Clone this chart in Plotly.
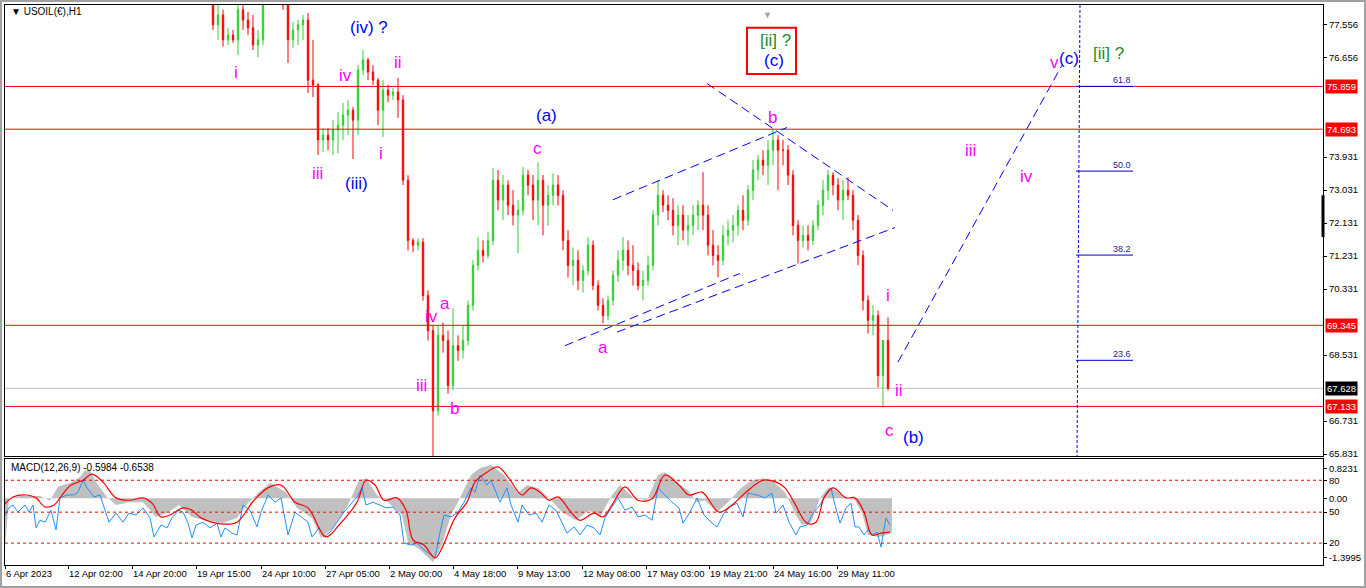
import plotly.graph_objects as go

# ---------------- price data (H1 bars aggregated) ----------------
bar_index = list(range(213, 889, 5))
open_ = [78.36,77.54,77.81,77.13,77.26,77.13,77.95,77.67,77.46,76.99,
         77.13,78.49,79.04,79.31,78.90,78.08,77.13,77.40,77.54,77.67,
         76.03,75.90,74.40,74.53,74.40,74.67,74.80,75.08,75.21,74.94,
         76.31,76.58,76.25,76.03,75.21,75.76,75.62,75.71,75.49,73.30,
         71.66,71.53,71.61,70.16,69.20,67.02,69.07,68.93,67.70,68.79,
         68.66,68.93,69.89,70.98,71.39,71.25,71.66,73.30,72.76,73.17,
         72.62,72.35,72.48,73.44,73.17,72.76,73.30,72.62,72.89,73.17,
         72.89,71.66,70.98,71.12,70.57,70.84,71.53,70.43,69.89,69.61,
         70.02,70.71,71.12,71.39,70.98,70.84,70.43,70.57,70.98,72.35,
         72.89,72.62,72.48,72.07,72.35,71.94,72.07,72.35,72.62,72.35,
         71.53,71.25,71.12,71.80,71.94,72.07,72.48,72.21,73.03,73.58,
         73.85,73.71,74.12,74.40,74.12,74.12,73.44,72.07,71.66,71.80,
         71.66,72.07,72.62,73.03,73.44,73.17,72.76,73.03,72.89,72.21,
         71.25,70.02,69.48,69.61,67.97,68.93]
high = [78.77,78.08,77.95,77.46,77.40,78.08,78.49,77.89,77.81,77.40,
        78.63,79.31,79.59,79.59,79.04,78.36,77.62,77.67,77.81,77.86,
        77.13,75.95,74.72,74.72,74.94,75.16,75.41,75.49,75.30,76.44,
        76.85,76.64,76.44,76.09,76.03,75.90,75.82,76.09,75.62,73.44,
        71.72,71.72,71.72,70.30,69.34,69.34,69.42,69.20,69.81,69.07,
        69.34,70.02,71.12,71.75,71.66,71.88,73.63,73.58,73.44,73.30,
        73.03,72.76,73.66,73.58,73.44,73.79,73.44,73.17,73.49,73.44,
        73.03,71.94,71.47,71.39,70.98,71.75,71.66,70.57,70.08,70.16,
        70.84,71.39,71.75,71.66,71.53,71.06,70.84,71.25,72.48,73.30,
        73.03,72.89,72.81,72.62,72.62,72.35,72.62,72.76,73.52,72.62,
        71.94,71.53,72.07,72.21,72.35,72.62,72.89,73.17,73.85,73.99,
        74.12,74.40,74.70,74.53,74.40,74.26,73.58,72.21,72.07,72.07,
        72.21,72.76,73.30,73.58,73.52,73.36,73.30,73.38,73.03,72.35,
        71.39,70.16,69.89,69.75,68.11,69.56]
low = [77.40,77.13,76.94,76.99,77.05,76.72,77.40,77.26,76.85,76.66,
       76.99,78.36,78.77,78.63,77.95,76.50,76.91,76.99,77.13,75.68,
       75.57,73.99,74.07,74.12,73.99,74.04,74.40,74.53,73.88,74.53,
       76.17,76.03,75.90,74.80,74.48,75.43,75.49,75.00,73.17,71.39,
       71.34,71.39,70.02,68.93,65.60,66.88,68.60,67.48,67.57,68.38,
       68.44,68.79,69.75,70.84,71.06,71.17,71.53,72.48,72.21,72.35,
       72.07,71.31,72.35,72.89,72.21,72.07,71.80,72.07,72.62,72.62,
       71.39,70.65,70.43,70.30,70.24,70.71,70.30,69.75,69.40,69.48,
       69.89,70.52,70.84,70.71,70.43,70.30,70.02,70.43,70.84,72.07,
       72.43,72.21,71.80,71.53,71.66,71.53,71.80,71.94,71.94,71.25,
       70.98,70.65,70.98,71.53,71.61,71.80,71.94,72.07,72.76,73.30,
       73.44,73.17,73.71,73.03,73.71,73.17,71.80,71.03,71.47,71.39,
       71.53,71.94,72.35,72.76,72.89,72.48,72.21,72.76,71.94,70.98,
       69.75,69.12,69.07,67.65,67.13,67.57]
close = [77.54,77.81,77.13,77.26,77.13,77.95,77.67,77.46,76.99,77.13,
         78.49,79.04,79.31,78.90,78.08,77.13,77.40,77.54,77.67,76.03,
         75.90,74.40,74.53,74.40,74.67,74.80,75.08,75.21,74.94,76.31,
         76.58,76.25,76.03,75.21,75.76,75.62,75.71,75.49,73.30,71.66,
         71.53,71.61,70.16,69.20,67.02,69.07,68.93,67.70,68.79,68.66,
         68.93,69.89,70.98,71.39,71.25,71.66,73.30,72.76,73.17,72.62,
         72.35,72.48,73.44,73.17,72.76,73.30,72.62,72.89,73.17,72.89,
         71.66,70.98,71.12,70.57,70.84,71.53,70.43,69.89,69.61,70.02,
         70.71,71.12,71.39,70.98,70.84,70.43,70.57,70.98,72.35,72.89,
         72.62,72.48,72.07,72.35,71.94,72.07,72.35,72.62,72.35,71.53,
         71.25,71.12,71.80,71.94,72.07,72.48,72.21,73.03,73.58,73.85,
         73.71,74.12,74.40,74.12,74.12,73.44,72.07,71.66,71.80,71.66,
         72.07,72.62,73.03,73.44,73.17,72.76,73.03,72.89,72.21,71.25,
         70.02,69.48,69.61,67.97,68.93,67.63]

hline_prices = [75.859, 74.693, 69.345, 67.133]
last_price = 67.628

ytick_vals = [77.556, 76.656, 73.931, 73.031, 72.131, 71.231,
              70.331, 68.531, 66.731, 65.831]

xtick_bars = [5, 68, 132, 196, 261, 325, 389, 453, 517, 582, 646, 709, 773, 837]
xtick_text = ["6 Apr 2023", "12 Apr 02:00", "14 Apr 20:00", "19 Apr 15:00",
              "24 Apr 10:00", "27 Apr 05:00", "2 May 00:00", "4 May 18:00",
              "9 May 13:00", "12 May 08:00", "17 May 03:00", "19 May 21:00",
              "24 May 16:00", "29 May 11:00"]

# fibonacci levels
fib_text = ["23.6", "38.2", "50.0", "61.8"]
fib_price = [68.39, 71.26, 73.55, 75.86]
fib_x = [1076, 1133]

# trend lines (bar, price, bar, price)
trendlines = [(613, 72.77, 787, 74.74),
              (565, 68.79, 740, 70.76),
              (617, 69.16, 895, 72.01),
              (707, 75.94, 893, 72.48),
              (898, 68.34, 1062, 76.44)]
vline = (1080, 78.08, 1077, 65.78)

MAG, BLU, GRN = "#FF00FF", "#0000FF", "#228B22"
wave_labels = [
    ("i", 236, 76.25, MAG), ("iii", 317, 73.49, MAG), ("(iii)", 356, 73.22, BLU),
    ("iv", 345, 76.17, MAG), ("(iv) ?", 369, 77.47, BLU), ("i", 381, 74.04, MAG),
    ("ii", 398, 76.50, MAG), ("iii", 421, 67.70, MAG), ("iv", 431, 69.58, MAG),
    ("a", 445, 69.93, MAG), ("b", 454, 67.07, MAG), ("c", 537, 74.18, MAG),
    ("(a)", 546, 75.08, BLU), ("a", 603, 68.74, MAG), ("b", 772, 75.00, MAG),
    ("[ii] ?", 775, 77.10, GRN), ("(c)", 774, 76.58, BLU),
    ("i", 888, 70.16, MAG), ("ii", 899, 67.57, MAG), ("c", 889, 66.47, MAG),
    ("(b)", 913, 66.28, BLU), ("iii", 970, 74.12, MAG), ("iv", 1026, 73.41, MAG),
    ("v", 1054, 76.50, MAG), ("(c)", 1069, 76.61, BLU), ("[ii] ?", 1108, 76.75, GRN),
]
label_box = (747, 77.46, 796, 76.20)

# ---------------- MACD panel data ----------------
hist_x = [4,9,20,40,50,58,70,80,85,90,96,107,116,129,143,156,167,179,192,205,
          223,237,246,259,270,286,297,312,321,333,348,359,366,377,388,402,408,420,433,442,
          451,460,471,480,491,504,518,527,538,549,562,576,589,600,612,620,634,647,658,665,
          679,688,697,705,717,728,741,752,763,774,785,796,802,811,820,829,835,846,855,862,
          868,879,886,892]
hist_v = [-1.30,0.00,0.05,0.05,-0.05,0.25,0.32,0.45,0.59,0.59,
          0.34,0.03,-0.14,-0.08,-0.08,-0.39,-0.31,-0.14,-0.39,-0.46,
          -0.52,-0.41,-0.14,0.13,0.32,0.13,-0.20,-0.41,-0.83,-0.62,
          -0.14,0.38,0.42,0.07,-0.08,-0.35,-0.92,-1.08,-1.34,-0.98,
          -0.35,0.01,0.49,0.64,0.70,0.49,0.11,0.28,0.22,0.01,
          -0.29,-0.46,-0.25,-0.39,0.07,0.28,0.01,-0.04,0.49,0.55,
          0.28,0.17,-0.08,-0.04,-0.29,-0.08,0.22,0.38,0.42,0.34,
          0.13,-0.35,-0.56,-0.50,0.01,0.24,0.17,0.01,-0.04,-0.31,
          -0.77,-0.81,-0.77,-0.71]

signal_x = [4,13,27,36,45,54,62,71,83,92,103,116,129,143,152,161,170,183,192,201,
            223,237,254,268,281,295,308,326,339,357,366,375,384,397,406,413,424,435,442,455,
            467,475,487,498,509,522,531,540,549,558,571,580,594,603,612,625,638,652,665,679,
            689,702,719,732,746,763,776,785,794,807,816,824,833,846,855,864,872,881,890]
signal_v = [-0.14,0.03,0.07,0.01,-0.18,-0.14,0.07,0.28,0.38,0.51,
            0.34,0.01,-0.04,0.01,-0.10,-0.39,-0.35,-0.20,-0.25,-0.41,
            -0.54,-0.50,-0.04,0.22,0.28,-0.08,-0.20,-0.81,-0.56,-0.08,
            0.38,0.28,-0.04,0.01,-0.25,-0.87,-0.98,-1.25,-1.04,-0.41,
            -0.08,0.34,0.55,0.66,0.42,0.07,0.22,0.13,-0.04,0.03,
            -0.29,-0.46,-0.31,-0.39,-0.14,0.24,-0.04,-0.01,0.49,0.28,
            0.07,0.13,-0.29,-0.14,0.13,0.38,0.34,0.22,-0.08,-0.52,
            -0.50,0.01,0.22,0.01,0.01,-0.29,-0.77,-0.73,-0.71]

main_x = [4,9,13,18,25,29,33,36,40,45,51,56,60,67,74,78,83,87,94,100,
          105,109,116,123,129,136,143,150,154,161,167,172,179,183,188,192,196,203,210,217,
          221,225,232,237,243,250,257,261,268,275,281,288,295,301,308,312,319,324,330,337,
          344,350,357,362,366,373,379,386,393,400,404,411,417,424,431,435,440,444,451,458,
          464,471,475,480,487,491,496,500,507,511,518,522,529,536,542,549,556,562,567,574,
          580,587,594,600,605,612,618,625,632,638,645,652,658,665,672,679,683,690,697,704,
          711,717,724,730,737,743,748,757,765,772,776,783,789,796,800,807,813,820,827,831,
          835,840,846,851,855,859,864,868,872,877,881,886,890]
main_v = [-0.39,-0.20,-0.14,-0.29,-0.14,-0.29,-0.14,-0.62,-0.46,-0.50,
          -0.25,-0.66,0.01,0.07,0.07,0.13,0.38,0.22,0.03,0.07,
          -0.25,-0.50,-0.31,-0.50,-0.31,-0.35,-0.20,-0.41,-0.81,-0.56,
          -0.62,-0.41,-0.25,-0.29,-0.52,-0.83,-0.56,-0.50,-0.62,-0.52,
          -0.81,-0.62,-0.73,-0.77,-0.14,-0.25,-0.60,-0.29,0.07,-0.08,
          0.01,-0.77,-0.29,-0.39,-0.50,-0.81,-0.62,-0.81,-0.71,-0.50,
          -0.29,-0.14,0.03,0.22,-0.14,-0.08,-0.14,-0.20,-0.18,-0.35,
          -0.94,-0.98,-0.94,-1.08,-1.19,-1.25,-0.71,-0.35,-0.39,-0.29,
          -0.08,0.22,0.13,0.49,0.28,0.38,0.13,-0.08,0.22,-0.14,
          -0.50,-0.14,-0.35,-0.31,-0.50,-0.14,-0.25,-0.52,-0.73,-0.60,
          -0.77,-0.56,-0.62,-0.77,-0.41,-0.18,0.01,-0.25,-0.18,-0.39,
          -0.35,-0.46,0.22,0.07,-0.08,-0.20,-0.52,-0.29,0.01,-0.35,
          -0.50,-0.60,-0.31,-0.18,-0.10,-0.39,0.11,0.07,0.01,0.11,
          -0.31,-0.14,-0.50,-0.77,-0.60,-0.56,-0.31,-0.14,0.13,0.22,
          -0.14,-0.52,-0.20,-0.10,-0.60,-0.60,-0.77,-0.66,-0.77,-0.71,
          -1.02,-0.41,-0.56]

macd_levels = [0.38, -0.29, -0.94]
macd_tickvals = [0.63, 0.38, 0.0, -0.29, -0.94, -1.25]
macd_ticktext = ["0.8231", "80", "0.00", "50", "20", "-1.3995"]
macd_title = "MACD(12,26,9) -0.5984 -0.6538"

# ---------------- figure ----------------
FONT = "Liberation Sans"
fig = go.Figure()

fig.add_trace(go.Candlestick(
    x=bar_index, open=open_, high=high, low=low, close=close,
    increasing=dict(line=dict(color="#32CD32", width=1), fillcolor="#32CD32"),
    decreasing=dict(line=dict(color="#FF0000", width=1), fillcolor="#FF0000"),
    whiskerwidth=0, xaxis="x", yaxis="y", showlegend=False, hoverinfo="skip"))

fig.add_trace(go.Scatter(x=hist_x, y=hist_v, mode="lines", fill="tozeroy",
                         fillcolor="#C0C0C0", line=dict(width=0, color="#C0C0C0"),
                         xaxis="x2", yaxis="y2", showlegend=False, hoverinfo="skip"))
fig.add_trace(go.Scatter(x=main_x, y=main_v, mode="lines",
                         line=dict(width=1, color="#1E90FF"),
                         xaxis="x2", yaxis="y2", showlegend=False, hoverinfo="skip"))
fig.add_trace(go.Scatter(x=signal_x, y=signal_v, mode="lines",
                         line=dict(width=1.2, color="#FF0000", shape="spline"),
                         xaxis="x2", yaxis="y2", showlegend=False, hoverinfo="skip"))

shapes = []
shapes.append(dict(type="line", xref="x domain", x0=0, x1=1, yref="y",
                   y0=last_price, y1=last_price, line=dict(color="#C0C0C0", width=1),
                   layer="below"))
for p in hline_prices:
    shapes.append(dict(type="line", xref="x domain", x0=0, x1=1, yref="y",
                       y0=p, y1=p, line=dict(color="#FF0000", width=1)))
for (xa, ya, xb, yb) in trendlines:
    shapes.append(dict(type="line", xref="x", yref="y", x0=xa, y0=ya, x1=xb, y1=yb,
                       line=dict(color="#0000FF", width=1, dash="9px,5px")))
shapes.append(dict(type="line", xref="x", yref="y", x0=vline[0], y0=vline[1],
                   x1=vline[2], y1=vline[3],
                   line=dict(color="#0000FF", width=1, dash="3px,2px")))
for fp in fib_price:
    shapes.append(dict(type="line", xref="x", yref="y", x0=fib_x[0], x1=fib_x[1],
                       y0=fp, y1=fp, line=dict(color="#0000CD", width=1)))
shapes.append(dict(type="rect", xref="x", yref="y", x0=label_box[0], y0=label_box[1],
                   x1=label_box[2], y1=label_box[3],
                   line=dict(color="#FF0000", width=2)))
for lv in macd_levels:
    shapes.append(dict(type="line", xref="x2 domain", x0=0, x1=1, yref="y2",
                       y0=lv, y1=lv, line=dict(color="#FF0000", width=1, dash="3px,3px")))
shapes.append(dict(type="line", xref="paper", x0=1.0, x1=1.0, yref="y",
                   y0=72.89, y1=71.75, line=dict(color="black", width=3)))
shapes.append(dict(type="rect", xref="paper", yref="paper", x0=-0.003, x1=1.0319,
                   y0=-0.0393, y1=1.0071, line=dict(color="#A0A0A0", width=2)))

annotations = []
for (t, bx, py, col) in wave_labels:
    annotations.append(dict(x=bx, y=py, xref="x", yref="y", text=t, showarrow=False,
                            font=dict(family=FONT, size=17, color=col),
                            xanchor="center", yanchor="middle"))
for ft, fp in zip(fib_text, fib_price):
    annotations.append(dict(x=fib_x[1], y=fp, xref="x", yref="y", text=ft,
                            showarrow=False, xanchor="right", yanchor="bottom",
                            font=dict(family=FONT, size=9, color="#1A1A8C"), yshift=-1))
for p in hline_prices:
    annotations.append(dict(x=1.0015, xref="paper", y=p, yref="y", text=f"{p:.3f}",
                            showarrow=False, xanchor="left", yanchor="middle",
                            bgcolor="#FF0000", borderpad=1,
                            font=dict(family=FONT, size=9.5, color="white")))
annotations.append(dict(x=1.0015, xref="paper", y=last_price, yref="y",
                        text=f"{last_price:.3f}", showarrow=False, xanchor="left",
                        yanchor="middle", bgcolor="black", borderpad=1,
                        font=dict(family=FONT, size=9.5, color="white")))
annotations.append(dict(x=0.003, y=0.9875, xref="paper", yref="paper",
                        text="▼ USOIL(€),H1", showarrow=False, xanchor="left",
                        yanchor="middle", font=dict(family=FONT, size=10, color="black")))
annotations.append(dict(x=0.003, y=0.175, xref="paper", yref="paper",
                        text=macd_title, showarrow=False, xanchor="left",
                        yanchor="middle", font=dict(family=FONT, size=10, color="black")))
annotations.append(dict(x=767, y=0.9946, xref="x", yref="paper", text="▼",
                        showarrow=False, font=dict(size=9, color="#A0A0A0")))

axis_common = dict(showgrid=False, zeroline=False, showline=True, mirror=True,
                   linecolor="black", linewidth=1, automargin=False)

fig.update_layout(
    width=1366, height=588,
    margin=dict(l=5, r=43, t=5, b=23),
    paper_bgcolor="white", plot_bgcolor="white",
    font=dict(family=FONT, size=10, color="black"),
    showlegend=False, boxgap=0.6,
    xaxis=dict(domain=[0, 1], range=[5, 1323], anchor="y", showticklabels=False,
               rangeslider=dict(visible=False), **axis_common),
    yaxis=dict(domain=[0.1946, 1], range=[65.78, 78.08], side="right", anchor="x",
               tickvals=ytick_vals, ticktext=[f"{v:.3f}" for v in ytick_vals],
               ticks="outside", ticklen=3, tickcolor="black",
               tickfont=dict(family=FONT, size=9.5), **axis_common),
    xaxis2=dict(domain=[0, 1], range=[5, 1323], anchor="y2",
                tickvals=xtick_bars, ticktext=xtick_text, ticks="outside", ticklen=3,
                tickcolor="black", ticklabelposition="outside right", tickangle=0,
                tickfont=dict(family=FONT, size=9.5), **axis_common),
    yaxis2=dict(domain=[0, 0.189], range=[-1.3995, 0.8231], side="right", anchor="x2",
                tickvals=macd_tickvals, ticktext=macd_ticktext, ticks="outside",
                ticklen=3, tickcolor="black", tickfont=dict(family=FONT, size=9.5),
                **axis_common),
    shapes=shapes, annotations=annotations,
)

fig.write_html("out.html", config={"displayModeBar": False},
               post_script="document.body.style.margin='0';document.body.style.overflow='hidden';")
